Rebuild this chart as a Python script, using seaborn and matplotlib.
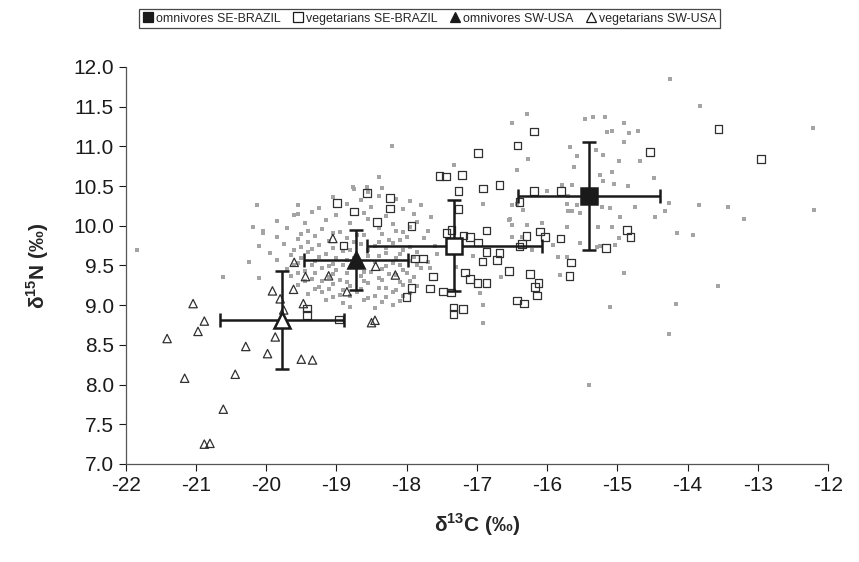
import pandas as pd
import numpy as np
import matplotlib.pyplot as plt
import seaborn as sns
from matplotlib.lines import Line2D

# vegetarians SW-USA (open triangles)
veg_us_x = [-21.41, -21.16, -21.04, -20.97, -20.88, -20.88, -20.80, -20.61, -20.44, -20.29,
            -19.98, -19.87, -19.91, -19.80, -19.75, -19.61, -19.60, -19.50, -19.34, -19.47,
            -19.44, -19.11, -19.05, -18.85, -18.44, -18.16, -18.45, -18.50]
veg_us_y = [8.58, 8.08, 9.02, 8.67, 8.80, 7.25, 7.26, 7.69, 8.13, 8.48,
            8.39, 8.60, 9.18, 9.08, 8.94, 9.20, 9.54, 8.32, 8.31, 9.02,
            9.36, 9.37, 9.84, 9.17, 9.49, 9.38, 8.81, 8.78]

# vegetarians SE-BRAZIL (open squares)
veg_br_x = [-19.42, -19.42, -18.96, -18.99, -18.75, -18.56, -18.24, -18.24, -18.42, -17.93,
            -18.90, -17.88, -17.77, -17.93, -18.00, -17.62, -17.67, -17.48, -17.37, -17.33,
            -17.33, -17.20, -17.17, -17.10, -16.99, -16.86, -16.92, -16.86, -16.68, -16.71,
            -16.54, -16.24, -16.12, -16.17, -16.14, -16.43, -16.33, -15.66, -15.68, -16.39,
            -16.36, -16.29, -16.10, -16.03, -15.81, -15.16, -14.86, -14.81, -16.86, -16.98,
            -17.43, -17.36, -17.19, -17.10, -17.26, -16.39, -17.26, -16.91, -16.68, -16.19,
            -15.80, -17.53, -17.44, -17.21, -16.98, -16.42, -16.19, -14.53, -13.56, -12.95]
veg_br_y = [8.96, 8.88, 8.82, 10.29, 10.18, 10.41, 10.35, 10.22, 10.05, 10.00,
            9.75, 9.59, 9.59, 9.22, 9.10, 9.36, 9.21, 9.17, 9.16, 8.97,
            8.89, 8.95, 9.41, 9.33, 9.28, 9.28, 9.55, 9.67, 9.66, 9.57,
            9.43, 9.39, 9.28, 9.23, 9.12, 9.06, 9.02, 9.54, 9.37, 9.74,
            9.77, 9.87, 9.93, 9.86, 9.84, 9.72, 9.95, 9.86, 9.94, 9.79,
            9.91, 9.95, 9.88, 9.86, 10.21, 10.30, 10.44, 10.47, 10.51, 10.44,
            10.44, 10.63, 10.62, 10.64, 10.92, 11.01, 11.19, 10.93, 11.22, 10.84]

# omnivores SE-BRAZIL (small filled squares)
omn_br_x = [-14.25, -13.82, -12.21, -12.20, -14.48, -14.27, -14.32, -14.46, -13.84, -13.43,
            -13.20, -14.15, -13.92, -13.56, -14.16, -14.27, -14.91, -15.11, -15.40, -16.91,
            -16.91, -15.84, -15.81, -15.53, -15.24, -16.28, -16.50, -15.34, -15.46, -15.17,
            -14.91, -15.15, -15.08, -14.84, -14.71, -14.91, -15.67, -15.31, -15.21, -14.97,
            -14.67, -16.27, -16.43, -15.61, -15.24, -15.08, -15.79, -15.65, -15.21, -15.05,
            -14.85, -16.00, -16.91, -16.43, -16.50, -15.72, -15.58, -15.22, -15.10, -16.34,
            -14.75, -16.54, -16.50, -15.72, -15.27, -15.08, -14.96, -14.97, -16.50, -16.36,
            -16.22, -15.91, -15.29, -15.72, -16.07, -16.29, -15.70, -15.70, -15.58, -15.03,
            -15.53, -15.65, -17.33, -16.53, -17.67, -17.57, -17.29, -17.21, -17.05, -16.95,
            -16.65]
omn_br_y = [11.85, 11.51, 11.23, 10.20, 10.60, 10.29, 10.19, 10.11, 10.26, 10.24,
            10.08, 9.91, 9.88, 9.24, 9.01, 8.64, 9.40, 8.98, 7.99, 9.00,
            8.77, 9.61, 9.38, 9.78, 9.74, 11.41, 11.30, 11.37, 11.34, 11.37,
            11.29, 11.18, 11.19, 11.17, 11.19, 11.05, 10.99, 10.95, 10.89, 10.82,
            10.82, 10.84, 10.70, 10.74, 10.64, 10.68, 10.51, 10.51, 10.57, 10.53,
            10.50, 10.44, 10.28, 10.27, 10.26, 10.28, 10.26, 10.24, 10.23, 10.20,
            10.24, 10.07, 10.01, 9.99, 9.99, 9.99, 10.11, 9.84, 9.86, 9.86,
            9.70, 9.76, 9.73, 9.61, 10.03, 10.01, 10.18, 10.37, 10.88, 9.76,
            10.16, 10.18, 10.77, 10.09, 9.47, 9.65, 9.48, 9.74, 9.62, 9.15,
            9.35]

# omnivores SW-USA (small filled triangles)
omn_us_x = [-21.84, -20.61, -20.13, -19.54, -20.04, -20.18, -18.21, -18.40, -18.76, -18.57,
            -18.75, -18.55, -18.35,
            -19.05, -18.65, -18.40, -18.15, -17.95,
            -19.55, -19.25, -18.85, -18.50, -18.05, -17.80,
            -19.60, -19.35, -19.00, -18.60, -18.30, -17.90, -17.65,
            -19.85, -19.45, -19.15, -18.80, -18.55, -18.20, -17.85,
            -20.05, -19.70, -19.40, -19.20, -18.95, -18.40, -18.15, -17.95, -17.70,
            -19.85, -19.55, -19.30, -18.85, -18.60, -18.25, -18.00, -17.75,
            -20.10, -19.75, -19.50, -19.25, -19.05, -18.65, -18.45, -18.20, -17.95, -17.60,
            -19.95, -19.65, -19.40, -19.15, -18.90, -18.55, -18.30, -18.10, -17.85,
            -20.25, -19.85, -19.55, -19.30, -19.05, -18.85, -18.45, -18.20, -17.95, -17.70,
            -19.70, -19.45, -19.20, -19.00, -18.75, -18.50, -18.35, -18.05, -17.80,
            -20.10, -19.65, -19.35, -19.10, -18.95, -18.65, -18.40, -18.15, -17.90,
            -19.55, -19.25, -19.05, -18.80, -18.55, -18.30, -18.05, -17.85,
            -19.40, -19.20, -18.95, -18.70, -18.45, -18.20, -17.95,
            -19.15, -18.90, -18.60, -18.35, -18.10,
            -18.80, -18.45, -18.20,
            -19.50, -19.25, -19.00, -18.75, -18.40, -18.15, -17.90,
            -19.60, -19.35, -19.10, -18.90, -18.65, -18.30, -18.10, -17.85,
            -19.55, -19.30, -19.05, -18.85, -18.60, -18.25, -18.00,
            -19.45, -19.20, -18.85, -18.60, -18.35, -18.10, -17.95,
            -19.30, -19.10, -18.90, -18.65, -18.40, -18.15,
            -19.05, -18.80, -18.55, -18.30, -18.05,
            -19.50, -19.05, -18.70, -18.35, -18.05,
            -19.40, -19.10, -18.75, -18.40, -18.10,
            -19.60, -19.35, -18.80, -18.55, -18.30, -18.05]
omn_us_y = [9.70, 9.36, 10.26, 10.15, 9.91, 9.99, 11.00, 10.62, 10.49, 10.49,
            10.46, 10.43, 10.47,
            10.36, 10.33, 10.38, 10.34, 10.31,
            10.26, 10.22, 10.27, 10.24, 10.21, 10.26,
            10.14, 10.17, 10.13, 10.16, 10.12, 10.15, 10.11,
            10.06, 10.03, 10.07, 10.04, 10.08, 10.02, 10.05,
            9.94, 9.97, 9.93, 9.96, 9.92, 9.97, 9.94, 9.98, 9.93,
            9.86, 9.83, 9.87, 9.84, 9.88, 9.82, 9.86, 9.85,
            9.74, 9.77, 9.73, 9.76, 9.72, 9.77, 9.74, 9.78, 9.73, 9.75,
            9.66, 9.63, 9.67, 9.64, 9.68, 9.62, 9.66, 9.64, 9.67,
            9.54, 9.57, 9.53, 9.56, 9.52, 9.57, 9.55, 9.53, 9.56, 9.54,
            9.46, 9.43, 9.47, 9.44, 9.48, 9.42, 9.46, 9.44, 9.47,
            9.34, 9.37, 9.33, 9.36, 9.32, 9.37, 9.34, 9.38, 9.35,
            9.26, 9.23, 9.27, 9.24, 9.28, 9.22, 9.26, 9.24,
            9.14, 9.17, 9.13, 9.16, 9.12, 9.17, 9.15,
            9.06, 9.03, 9.07, 9.04, 9.05,
            8.98, 8.97, 9.00,
            9.60, 9.61, 9.59, 9.60, 9.62, 9.59, 9.61,
            9.50, 9.51, 9.49, 9.50, 9.52, 9.49, 9.51, 9.50,
            9.40, 9.41, 9.39, 9.40, 9.42, 9.39, 9.41,
            9.30, 9.31, 9.29, 9.30, 9.32, 9.29, 9.31,
            9.20, 9.21, 9.19, 9.20, 9.22, 9.19,
            9.10, 9.11, 9.09, 9.10, 9.12,
            9.90, 9.91, 9.89, 9.90, 9.92,
            9.80, 9.81, 9.79, 9.80, 9.82,
            9.70, 9.71, 9.69, 9.70, 9.72, 9.69]

# group means and SD
groups = ['omnivores SE-BRAZIL', 'vegetarians SE-BRAZIL', 'omnivores SW-USA', 'vegetarians SW-USA']
mean_x = [-15.40, -17.32, -18.72, -19.77]
mean_y = [10.37, 9.75, 9.57, 8.81]
sd_x = [1.01, 1.25, 0.745, 0.885]
sd_y = [0.68, 0.57, 0.38, 0.615]

sns.set_style('white')
plt.rcParams['font.family'] = ['Liberation Sans', 'DejaVu Sans']
plt.rcParams['axes.unicode_minus'] = False
plt.rcParams['mathtext.fontset'] = 'custom'
plt.rcParams['mathtext.rm'] = 'Liberation Sans'
plt.rcParams['mathtext.bf'] = 'Liberation Sans:bold'

fig = plt.figure(figsize=(8.59, 5.62), dpi=100)
ax = fig.add_axes([0.1463, 0.1744, 0.8176, 0.7064])

grey = '#a4a4a4'
sns.scatterplot(x=omn_br_x, y=omn_br_y, marker='s', s=8, color=grey, linewidth=0, ax=ax, zorder=2)
sns.scatterplot(x=omn_us_x, y=omn_us_y, marker='s', s=8, color=grey, linewidth=0, ax=ax, zorder=2)
sns.scatterplot(x=veg_br_x, y=veg_br_y, marker='s', s=30, facecolor='none', edgecolor='#303030',
                linewidth=0.9, ax=ax, zorder=3)
sns.scatterplot(x=veg_us_x, y=veg_us_y, marker='^', s=36, facecolor='none', edgecolor='#303030',
                linewidth=0.9, ax=ax, zorder=3)

markers = ['s', 's', '^', '^']
faces = ['#1a1a1a', 'white', '#1a1a1a', 'white']
for i in range(4):
    ax.errorbar(mean_x[i], mean_y[i], xerr=sd_x[i], yerr=sd_y[i], fmt='none',
                ecolor='#1a1a1a', elinewidth=1.8, capsize=5, capthick=1.8, zorder=4)
    ax.plot(mean_x[i], mean_y[i], marker=markers[i], markersize=12, markerfacecolor=faces[i],
            markeredgecolor='#1a1a1a', markeredgewidth=1.8, linestyle='none', zorder=5)

ax.set_xlim(-22, -12)
ax.set_ylim(7, 12)
ax.set_xticks(np.arange(-22, -11, 1))
ax.set_yticks(np.arange(7, 12.01, 0.5))
ax.set_yticklabels([f'{v:.1f}' for v in np.arange(7, 12.01, 0.5)])
ax.tick_params(axis='both', labelsize=15, direction='out', length=5, width=0.8,
               left=True, bottom=True, colors='#1a1a1a')
for s in ['top', 'right']:
    ax.spines[s].set_visible(False)
for s in ['left', 'bottom']:
    ax.spines[s].set_color('#555555')
    ax.spines[s].set_linewidth(0.9)

ax.set_xlabel('δ$^{\\mathbf{13}}$C (‰)', fontsize=15, fontweight='bold', labelpad=12)
ax.set_ylabel('δ$^{\\mathbf{15}}$N (‰)', fontsize=15, fontweight='bold', labelpad=16)

handles = [Line2D([], [], marker=markers[i], linestyle='none', markersize=6.5,
                  markerfacecolor=faces[i], markeredgecolor='#1a1a1a', markeredgewidth=0.9)
           for i in range(4)]
leg = fig.legend(handles, groups, loc='upper center', bbox_to_anchor=(0.5, 0.995), ncol=4,
                 fontsize=8.9, frameon=True, fancybox=False, handlelength=0.8,
                 handletextpad=0.25, columnspacing=1.0, borderpad=0.3)
leg.get_frame().set_edgecolor('#1a1a1a')
leg.get_frame().set_linewidth(0.9)

fig.savefig('out.png', dpi=100)
plt.close(fig)
